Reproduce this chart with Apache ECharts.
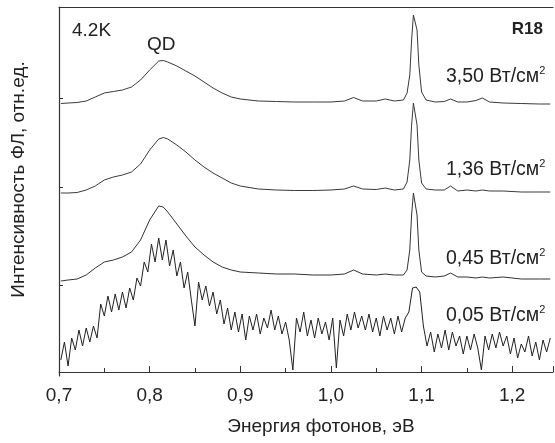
<!DOCTYPE html>
<html><head><meta charset="utf-8">
<script src="https://cdn.jsdelivr.net/npm/echarts@6/dist/echarts.min.js"></script>
<style>html,body{margin:0;padding:0;background:#fff}#c{width:555px;height:443px}</style>
</head><body><div id="c"></div>
<script>
// Energy grid (eV) of the three smooth spectra
const energySmooth = [0.702,0.710,0.720,0.730,0.740,0.750,0.760,0.770,0.780,0.790,0.800,0.810,0.815,0.820,0.830,0.840,0.850,0.860,0.870,0.880,0.890,0.900,0.920,0.940,0.960,0.980,1.000,1.015,1.025,1.035,1.050,1.060,1.070,1.080,1.084,1.087,1.089,1.091,1.093,1.095,1.097,1.100,1.105,1.115,1.125,1.132,1.140,1.150,1.160,1.167,1.175,1.190,1.210,1.230,1.242];
// PL intensity (offset, arb. units)
const pl350 = [268.5,269,269.5,271,275,279,280.5,282,285,292,302,311,311.5,310,306,301,296,290,284,279,275,273,271,270.5,270,270,270,271,274.5,271,271,273,271,272,279,297,332,357,359,342,307,280,272,270,270.5,273,270,270,271.5,274,270,269,268.5,268,268];
const pl136 = [179,179,179.5,182,186,192,195,197,200,208,222,233,234.5,233,227,220,212,205,199,194,189,186,183,182,181.5,181.5,182,183,186,183,182.5,184,182,183,190,212,247,269,269,247,212,189,183,182,182,186,181,182,181,182,181,181,180,180,180];
const pl045 = [91,92,93,97,104,110,112,115,120,132,152,166,165,160,148,136,125,117,110,105,102,100,99,98,98,97,97,98,102,98,97,98,97,97,102,122,157,179,179,157,122,100,96,95,96,99,95,95,94,95,94,95,93,93,93];
// Energy grid of the noisy low-power spectrum
const energyNoisy = [0.702,0.706,0.710,0.714,0.718,0.722,0.726,0.730,0.734,0.738,0.742,0.746,0.750,0.754,0.758,0.762,0.766,0.770,0.774,0.778,0.782,0.786,0.790,0.794,0.798,0.802,0.806,0.810,0.814,0.818,0.822,0.826,0.830,0.834,0.838,0.842,0.846,0.850,0.854,0.858,0.862,0.866,0.870,0.874,0.878,0.882,0.886,0.890,0.894,0.898,0.902,0.906,0.910,0.914,0.918,0.922,0.926,0.930,0.934,0.938,0.942,0.946,0.950,0.954,0.958,0.962,0.966,0.970,0.974,0.978,0.982,0.986,0.990,0.994,0.998,1.002,1.006,1.010,1.014,1.018,1.022,1.026,1.030,1.034,1.038,1.042,1.046,1.050,1.054,1.058,1.062,1.066,1.070,1.074,1.078,1.082,1.086,1.090,1.094,1.098,1.102,1.106,1.110,1.114,1.118,1.122,1.126,1.130,1.134,1.138,1.142,1.146,1.150,1.154,1.158,1.162,1.166,1.170,1.174,1.178,1.182,1.186,1.190,1.194,1.198,1.202,1.206,1.210,1.214,1.218,1.222,1.226,1.230,1.234,1.238,1.242];
const pl005 = [12,30,6,34,22,42,26,44,30,46,34,68,56,76,60,78,62,80,64,84,72,94,86,110,100,128,110,134,112,132,106,122,96,110,84,100,72,46,90,72,86,66,80,58,72,48,64,42,60,40,58,32,56,42,58,38,54,44,62,42,56,38,50,32,2,54,40,60,36,52,34,54,38,50,32,54,4,52,36,58,42,60,44,56,42,58,40,54,36,56,42,54,38,56,40,54,60,84,85,80,46,26,40,20,38,24,42,22,40,26,36,18,36,22,38,24,2,36,22,38,24,40,26,36,18,34,14,28,20,36,16,30,12,32,20,34];
// Y ticks (baselines) and axis ranges
const yTickVals = [87, 185, 274];
const xMin = 0.7, xMax = 1.245, xStep = 0.1;
const yMin = -4, yMax = 365;
const powerLabels = ['3,50 Вт/см', '1,36 Вт/см', '0,45 Вт/см', '0,05 Вт/см'];

const pair = (xs, ys) => xs.map((x, i) => [x, ys[i]]);
const FONT = '"Liberation Sans", Arial, sans-serif';
const chart = echarts.init(document.getElementById('c'), null, {renderer: 'canvas'});
const lineSeries = (data, color) => ({
  type: 'line', data, showSymbol: false, symbol: 'none', animation: false,
  lineStyle: {width: 1, color}, xAxisIndex: 0, yAxisIndex: 0
});
const powerText = (txt, y) => ({
  type: 'text', x: 446, y, style: {
    text: '{a|' + txt + '}{s|2}', verticalAlign: 'middle', align: 'left',
    rich: {a: {fontSize: 19.5, fontFamily: FONT, fill: '#222', lineHeight: 22, verticalAlign: 'bottom'},
           s: {fontSize: 11, fontFamily: FONT, fill: '#222', lineHeight: 22, verticalAlign: 'top'}}
  }
});
chart.setOption({
  backgroundColor: '#fff',
  animation: false,
  grid: {left: 59, right: 2, top: 7, bottom: 67},
  xAxis: [{
    type: 'value', min: xMin, max: xMax, interval: xStep,
    name: 'Энергия фотонов, эВ', nameLocation: 'middle', nameGap: 41,
    nameTextStyle: {fontSize: 19, fontFamily: FONT, color: '#222', padding: [0, 0, 0, 30]},
    axisLine: {show: true, lineStyle: {color: '#333', width: 1.2}},
    axisTick: {show: true, inside: true, length: 6, lineStyle: {color: '#333'}},
    minorTick: {show: true, splitNumber: 2, length: 4, lineStyle: {color: '#333'}},
    axisLabel: {fontSize: 19, fontFamily: FONT, color: '#222', margin: 10,
      formatter: v => v.toFixed(1).replace('.', ','), showMaxLabel: false},
    splitLine: {show: false}
  }, {
    type: 'value', position: 'top', min: xMin, max: xMax,
    axisLine: {show: true, lineStyle: {color: '#333', width: 1.2}},
    axisTick: {show: false}, axisLabel: {show: false}, splitLine: {show: false}
  }],
  yAxis: {
    type: 'value', min: yMin, max: yMax,
    name: 'Интенсивность ФЛ, отн.ед.', nameLocation: 'middle', nameGap: 31,
    nameTextStyle: {fontSize: 19, fontFamily: FONT, color: '#222', padding: [0, 0, 0, 24]},
    axisLine: {show: true, lineStyle: {color: '#333', width: 1.2}},
    axisTick: {show: true, inside: true, length: 4, customValues: yTickVals, lineStyle: {color: '#333'}},
    axisLabel: {show: false}, splitLine: {show: false}
  },
  series: [
    lineSeries(pair(energySmooth, pl350), '#3a3a3a'),
    lineSeries(pair(energySmooth, pl136), '#3a3a3a'),
    lineSeries(pair(energySmooth, pl045), '#333'),
    lineSeries(pair(energyNoisy, pl005), '#222')
  ],
  graphic: [
    {type: 'text', x: 72, y: 31, style: {text: '4.2K', fontSize: 19, fontFamily: FONT, fill: '#222', verticalAlign: 'middle'}},
    {type: 'text', x: 147, y: 45, style: {text: 'QD', fontSize: 19, fontFamily: FONT, fill: '#222', verticalAlign: 'middle'}},
    {type: 'text', x: 543, y: 29, style: {text: 'R18', fontSize: 17, fontWeight: 'bold', fontFamily: FONT, fill: '#222', verticalAlign: 'middle', align: 'right'}},
    powerText(powerLabels[0], 76),
    powerText(powerLabels[1], 169),
    powerText(powerLabels[2], 258),
    powerText(powerLabels[3], 315)
  ]
});
</script></body></html>
